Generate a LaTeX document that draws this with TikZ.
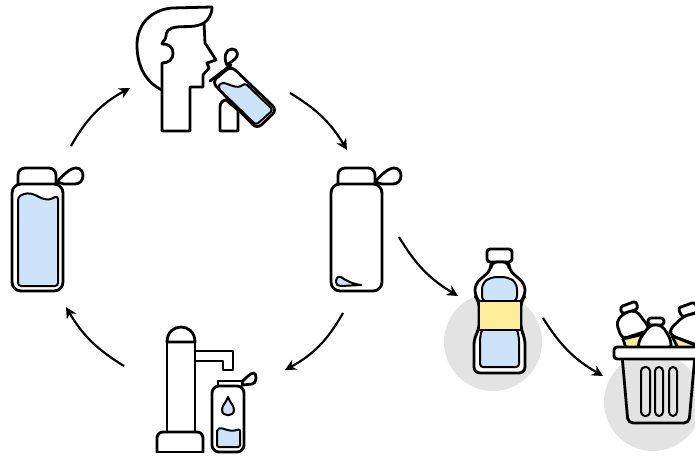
\documentclass[tikz,border=0pt]{standalone}
\usepackage{xcolor}
\usetikzlibrary{arrows.meta}
\definecolor{waterblue}{HTML}{CDE3F9}
\definecolor{labelyellow}{HTML}{FFEE99}
\definecolor{spotgray}{HTML}{E3E3E3}
\tikzset{
  outline/.style={black,line width=2.8pt,line join=round,line cap=round},
  thinline/.style={black,line width=2pt,line join=round},
  cycleflow/.style={black,line width=2.2pt,-{Stealth[length=11pt,width=11pt]}}
}

\begin{document}
\begin{tikzpicture}[x=1pt,y=-1pt]
  \useasboundingbox (0,0) rectangle (695,455);
  % drinking person
  \draw[outline] (212,7) -- (172,8) .. controls (150,10) and (137,25) .. (137,45)
    .. controls (137,65) and (145,82) .. (162,90);
  \draw[outline] (212,7) .. controls (212,15) and (208,20) .. (204,23)
    .. controls (195,28) and (185,26) .. (177,27) .. controls (168,28) and (166,32) .. (166,36)
    .. controls (166,40) and (163,40) .. (162,44) .. controls (170,44) and (173,48) .. (173,53)
    .. controls (173,60) and (168,63) .. (162,63) -- (162,131) -- (190,131) -- (190,87) -- (203,87)
    -- (203,75) -- (209,68) -- (207,63) -- (216,60) -- (205,43) -- (204,23);
  \draw[outline,fill=white] (220,131) -- (220,107) .. controls (220,103) and (223,100) .. (226,100)
    -- (238,110) -- (238,131) -- cycle;
  \draw[outline,fill=white,rounded corners=6pt] (212,82) -- (231,66) -- (277,110) -- (257,129) -- cycle;
  \draw[outline] (210,81) -- (231,65);
  \draw[outline,fill=white] (227,65) .. controls (223,57) and (226,49) .. (232,49)
    .. controls (238,49) and (239,56) .. (235,59) -- cycle;
  \draw[thinline,fill=waterblue,rounded corners=3pt] (218,88) -- (220,83)
    .. controls (228,83) and (237,90) .. (245,83) -- (273,110) -- (256,125) -- cycle;

  % full flask
  \draw[outline,rounded corners=7pt] (18,184) -- (18,168) -- (56,168) -- (56,184);
  \draw[outline] (57,182) .. controls (62,176) and (70,168) .. (76,168)
    .. controls (81,168) and (83,172) .. (83,176) .. controls (83,181) and (79,184) .. (75,184)
    -- (64,184) -- cycle;
  \draw[outline,fill=white,rounded corners=9pt] (12,184) -- (63,184) -- (63,291) -- (12,291) -- cycle;
  \draw[thinline,fill=waterblue,rounded corners=3pt] (18,286) -- (18,197)
    .. controls (30,190) and (38,197) .. (44,199) .. controls (50,200) and (55,197) .. (58,196)
    -- (58,286) -- cycle;

  % empty flask
  \draw[outline,rounded corners=7pt] (338,184) -- (338,168) -- (375,168) -- (375,184);
  \draw[outline] (375,182) .. controls (380,176) and (388,168) .. (394,168)
    .. controls (399,168) and (401,172) .. (401,176) .. controls (401,181) and (397,184) .. (393,184)
    -- (382,184) -- cycle;
  \draw[outline,fill=white,rounded corners=9pt] (331,184) -- (382,184) -- (382,291) -- (331,291) -- cycle;
  \draw[thinline,fill=waterblue] (336,282) .. controls (336,278) and (338,276) .. (341,277)
    .. controls (346,281) and (353,284) .. (361,285) -- (341,286) .. controls (338,286) and (336,285) .. (336,282) -- cycle;

  % water tap with small flask
  \draw[outline] (195,351) -- (233,351) -- (233,370) -- (223,370) -- (223,361) -- (195,361);
  \draw[outline] (167,342) -- (167,432);
  \draw[outline] (195,342) -- (195,432);
  \draw[outline] (167,342) .. controls (167,332) and (174,327) .. (181,327)
    .. controls (188,327) and (195,332) .. (195,342) -- cycle;
  \draw[outline,rounded corners=6pt] (157,452) -- (157,432) -- (203,432) -- (203,452);
  \draw[outline] (157,452) -- (203,452);
  \draw[outline] (218,386) -- (218,381) -- (242,381) -- (242,386);
  \draw[outline] (242,382) .. controls (246,378) and (250,373) .. (254,373)
    .. controls (257,373) and (257,384) .. (252,384) -- (243,385) -- cycle;
  \draw[outline,fill=white,rounded corners=7pt] (212,386) -- (244,386) -- (244,452) -- (212,452) -- cycle;
  \draw[thinline,fill=waterblue,rounded corners=2pt] (217,447) -- (217,429)
    .. controls (224,427) and (228,433) .. (240,429) -- (240,447) -- cycle;
  \draw[thinline,fill=waterblue] (228,397) .. controls (226,403) and (222,405) .. (222,410)
    .. controls (222,417) and (234,417) .. (234,410) .. controls (234,405) and (230,403) .. (228,397) -- cycle;

  % plastic bottle
  \fill[spotgray] (493,342) circle (49);
  \draw[outline,rounded corners=3pt] (487,262) -- (487,249) -- (512,249) -- (512,262) -- cycle;
  \draw[outline,fill=white,rounded corners=6pt] (491,262) -- (491,270) -- (475,284) -- (475,296) -- (479,301)
    -- (479,330) -- (474,338) -- (474,373) -- (525,373) -- (525,338) -- (521,330) -- (521,301)
    -- (525,296) -- (525,284) -- (509,270) -- (509,262) -- cycle;
  \draw[thinline,fill=waterblue,rounded corners=6pt] (482,302) -- (482,283) -- (491,277) -- (508,277) -- (517,283) -- (517,302) -- cycle;
  \draw[thinline,fill=waterblue,rounded corners=3pt] (482,329) -- (480,338) -- (480,367) -- (519,367) -- (519,338) -- (517,329) -- cycle;
  \draw[outline,fill=labelyellow] (479,301) rectangle (521,330);

  % waste basket
  \fill[spotgray] (653,402) circle (49);
  \begin{scope}
    \clip (600,290) rectangle (695,455);
    \draw[outline,fill=white,rounded corners=3pt] (620,307) -- (636,301) -- (638,309) -- (622,314) -- cycle;
    \draw[outline,fill=white,rounded corners=5pt] (624,313) -- (636,310) -- (648,326) -- (650,330) -- (622,339) -- (616,322) -- cycle;
    \fill[labelyellow] (623,339) -- (640,335) -- (637,348) -- (626,348) -- cycle;
    \draw[outline] (623,339) -- (626,348);
    \draw[outline] (623,339) -- (640,335);
    \draw[outline,fill=white,rounded corners=3pt] (678,308) -- (695,302) -- (698,312) -- (682,317) -- cycle;
    \draw[outline,fill=white,rounded corners=5pt] (684,316) -- (669,330) -- (672,336) -- (700,346) -- (700,312) -- cycle;
    \fill[labelyellow] (672,336) -- (695,345) -- (695,348) -- (675,348) -- cycle;
    \draw[outline] (672,336) -- (678,348);
    \draw[outline] (672,336) -- (695,345);
    \draw[outline,fill=white,rounded corners=3pt] (648,318) -- (664,318) -- (664,325) -- (648,325) -- cycle;
    \draw[outline,fill=white,rounded corners=5pt] (650,325) -- (639,340) -- (638,350) -- (671,350) -- (671,340) -- (662,325) -- cycle;
    \draw[outline,rounded corners=5pt] (622,355) -- (628,423) -- (689,423) -- (695,355);
    \draw[outline,fill=white,rounded corners=3pt] (614,347) rectangle (705,359);
    \draw[thinline,rounded corners=4pt] (641,367) rectangle (650,416);
    \draw[thinline,rounded corners=4pt] (655,367) rectangle (663,416);
    \draw[thinline,rounded corners=4pt] (669,367) rectangle (677,416);
  \end{scope}

  % arrows
  \coordinate (fullout) at (71,146);
  \coordinate (drinkin) at (130,88);
  \coordinate (drinkout) at (290,93);
  \coordinate (emptyin) at (347,150);
  \coordinate (emptyout) at (343,313);
  \coordinate (tapin) at (285,370);
  \coordinate (tapout) at (124,366);
  \coordinate (fullin) at (66,307);
  \coordinate (emptyside) at (399,237);
  \coordinate (plasticin) at (458,296);
  \coordinate (plasticout) at (543,318);
  \coordinate (basketin) at (603,376);
  \draw[cycleflow] (fullout) to[bend left=16] (drinkin);
  \draw[cycleflow] (drinkout) to[bend left=14] (emptyin);
  \draw[cycleflow] (emptyout) to[bend left=16] (tapin);
  \draw[cycleflow] (tapout) to[bend left=14] (fullin);
  \draw[cycleflow] (emptyside) to[bend right=14] (plasticin);
  \draw[cycleflow] (plasticout) to[bend right=14] (basketin);
\end{tikzpicture}
\end{document}
